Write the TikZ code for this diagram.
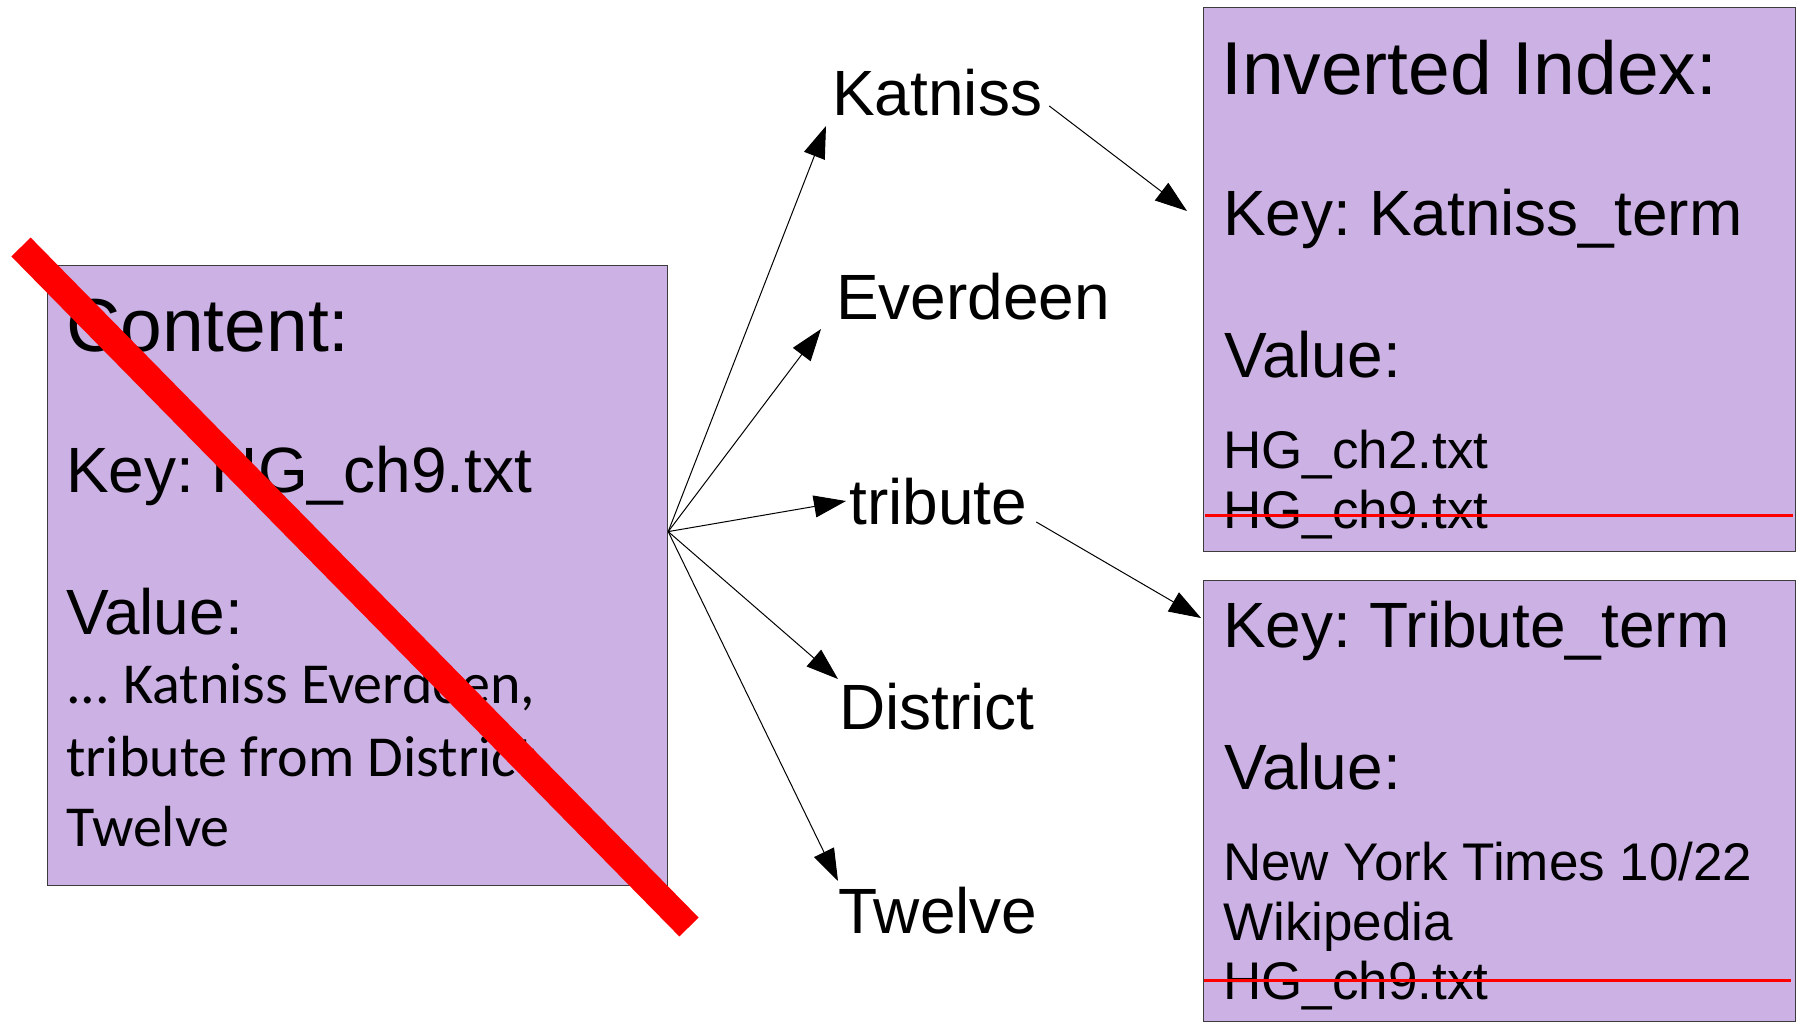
\documentclass[tikz,border=0pt]{standalone}
\usepackage{fontspec}
\setmainfont{Liberation Sans}
\newfontfamily\calibri{Carlito}
\usetikzlibrary{arrows.meta,calc}
\definecolor{lav}{RGB}{204,178,228}
\definecolor{edge}{RGB}{60,60,60}
\frenchspacing
\begin{document}
\begin{tikzpicture}[x=1pt,y=-1pt,
  panel/.style={draw=edge, line width=1.2pt, fill=lav, rectangle, inner sep=0pt, anchor=north west},
  txt/.style={inner sep=0pt, anchor=base west, text=black},
  head/.style={txt, font=\fontsize{75}{86}\selectfont},
  mid/.style={txt, font=\fontsize{64}{74}\selectfont},
  small/.style={txt, font=\fontsize{53}{61}\selectfont},
  prose/.style={txt, font=\calibri\fontsize{58}{70}\selectfont},
  link/.style={line width=1pt, -{Triangle[length=32pt,width=22pt]}},
  strike/.style={red, line width=3pt},
  veto/.style={red, line width=27pt}
]
\fill[white] (0,0) rectangle (1807,1023);
\useasboundingbox (0,0) rectangle (1807,1023);

% panels
\node[panel, minimum width=620pt, minimum height=620pt] (content) at (47,265) {};
\node[panel, minimum width=592pt, minimum height=544pt] (box1) at (1203,7) {};
\node[panel, minimum width=592pt, minimum height=441pt] (box2) at (1203,580) {};

% document record
\node[head]  (c1) at (66,351) {Content:};
\node[mid]   (c2) at (66,492) {Key: HG\_ch9.txt};
\node[mid]   (c3) at (66,634) {Value:};
\node[prose] (c4) at (66,703) {... Katniss Everdeen,};
\node[prose] (c5) at (66,776) {tribute from District};
\node[prose] (c6) at (66,846) {Twelve};

% extracted terms
\node[mid] (w1) at (832,115) {Katniss};
\node[mid] (w2) at (836,319) {Everdeen};
\node[mid] (w3) at (849,524) {tribute};
\node[mid] (w4) at (839,729) {District};
\node[mid] (w5) at (838,933) {Twelve};

% index entries
\node[head]  (i1) at (1221,94)  {Inverted Index:};
\node[mid]   (i2) at (1223,235) {Key: Katniss\_term};
\node[mid]   (i3) at (1224,377) {Value:};
\node[small] (i4) at (1223,468) {HG\_ch2.txt};
\node[small] (i5) at (1223,528) {HG\_ch9.txt};

\node[mid]   (t1) at (1223,647) {Key: Tribute\_term};
\node[mid]   (t2) at (1224,789) {Value:};
\node[small] (t3) at (1223,880) {New York Times 10/22};
\node[small] (t4) at (1223,940) {Wikipedia};
\node[small] (t5) at (1223,999) {HG\_ch9.txt};

% connectors
\coordinate (hub) at ($(content.east)+(0,-44)$);
\draw[link] (hub) -- ($(w1.base west)+(-6,11)$);
\draw[link] (hub) -- ($(w2.base west)+(-15,10)$);
\draw[link] (hub) -- ($(w3.base west)+(-3,-23)$);
\draw[link] (hub) -- ($(w4.base west)+(-1,-50)$);
\draw[link] (hub) -- ($(w5.base west)+(0,-52)$);
\draw[link] ($(w1.base east)+(7,-9)$) -- ($(box1.north west)+(-16,204)$);
\draw[link] ($(w3.base east)+(9,-2)$) -- ($(box2.north west)+(-2,38)$);

% deletions
\draw[strike] (1205,515) -- (1793,515);
\draw[strike] (1204,980) -- (1791,980);
\draw[veto] (21,247) -- (689,927);
\end{tikzpicture}
\end{document}
